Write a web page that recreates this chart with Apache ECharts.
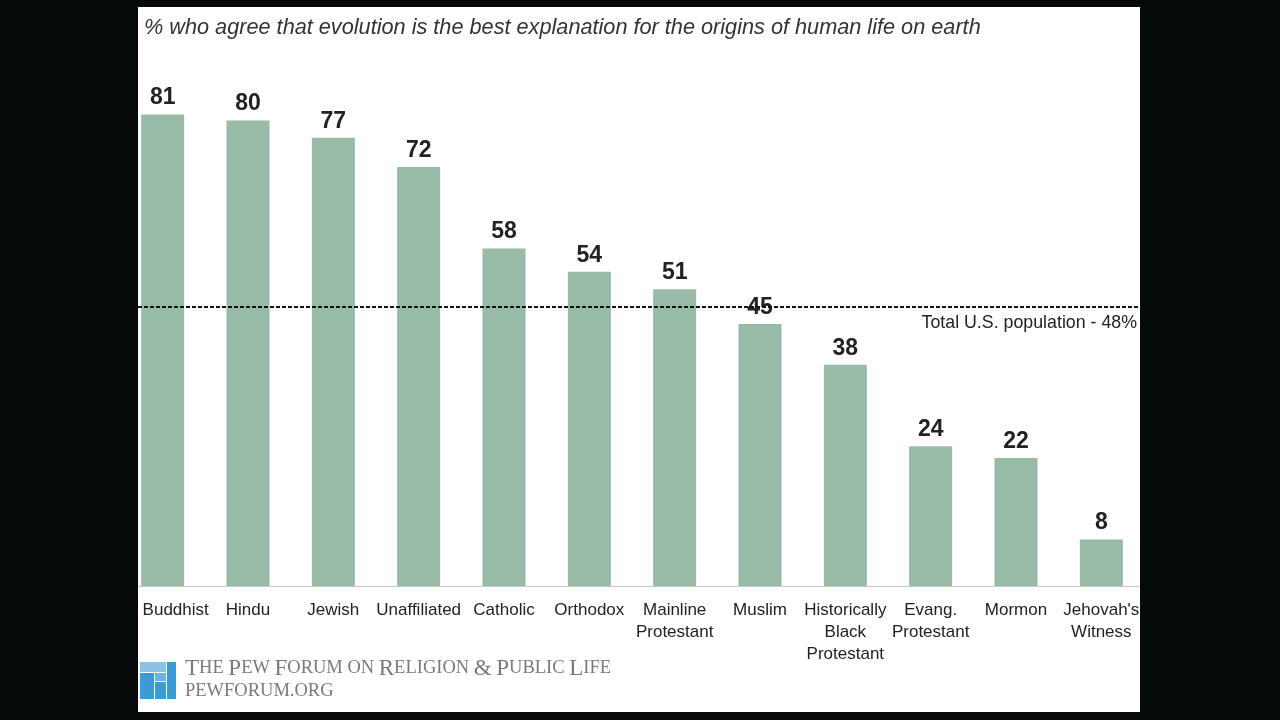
<!DOCTYPE html>
<html><head><meta charset="utf-8">
<script src="https://cdn.jsdelivr.net/npm/echarts@6/dist/echarts.min.js"></script>
<style>html,body{margin:0;padding:0;background:#05090a}#c{width:1280px;height:720px}</style>
</head><body><div id="c"></div>
<script>
const categories = ["Buddhist","Hindu","Jewish","Unaffiliated","Catholic","Orthodox","Mainline\nProtestant","Muslim","Historically\nBlack\nProtestant","Evang.\nProtestant","Mormon","Jehovah's\nWitness"];
const values = [81,80,77,72,58,54,51,45,38,24,22,8];
const totalPopulation = 48;
const titleText = "% who agree that evolution is the best explanation for the origins of human life on earth";
const referenceLabel = "Total U.S. population - 48%";
const footerName = "The Pew Forum on Religion & Public Life";
const footerUrl = "PEWFORUM.ORG";

const SANS = "'Liberation Sans', Arial, sans-serif";
const SERIF = "'Liberation Serif', 'DejaVu Serif', serif";
const chart = echarts.init(document.getElementById('c'));
function smallCaps(str){
  let out = '';
  str.split(' ').forEach((w,i)=>{
    if(i>0) out += '{s| }';
    if(w === '&'){ out += '{b|&}'; return; }
    if(w[0] === w[0].toLowerCase()){ out += '{s|' + w.toUpperCase() + '}'; return; }
    out += '{b|' + w[0] + '}';
    if(w.length>1) out += '{s|' + w.slice(1).toUpperCase() + '}';
  });
  return out;
}
const option = {
  backgroundColor: '#05090a',
  animation: false,
  title: {
    text: titleText,
    left: 139, top: 12,
    textStyle: {fontFamily: SANS, fontStyle: 'italic', fontWeight: 'normal', fontSize: 21.7, color: '#333'}
  },
  grid: {left: 120, width: 1024, top: 4, bottom: 134, containLabel: false},
  xAxis: {
    type: 'category',
    data: categories.map((c,i)=> i===0 ? {value:c, textStyle:{padding:[0,0,0,26]}} : c),
    axisLine: {show: true, lineStyle: {color: '#c8c8c8', width: 1}},
    axisTick: {show: false},
    axisLabel: {interval: 0, margin: 13, fontFamily: SANS, fontSize: 17, color: '#222', lineHeight: 22}
  },
  yAxis: {type: 'value', min: 0, max: 100, show: false, splitLine: {show:false}},
  series: [{
    type: 'bar',
    data: values,
    barWidth: 43,
    itemStyle: {color: '#98bba8'},
    label: {show: true, position: 'top', distance: 5, fontFamily: SANS, fontWeight: 'bold', fontSize: 23, color: '#222'},
    markLine: {
      symbol: 'none', silent: true,
      lineStyle: {type: [4,2], color: '#111', width: 2},
      label: {show: true, position: 'insideEndBottom', distance: [7, 7], formatter: referenceLabel,
        fontFamily: SANS, fontSize: 17.8, color: '#222'},
      data: [{yAxis: totalPopulation}]
    }
  }],
  graphic: [
    {type:'rect', z:-10, shape:{x:138,y:7,width:1002,height:705}, style:{fill:'#fff'}},
    {type:'rect', z:100, shape:{x:0,y:0,width:138,height:720}, style:{fill:'#05090a'}},
    {type:'rect', z:100, shape:{x:1140,y:0,width:140,height:720}, style:{fill:'#05090a'}},
    {type:'rect', z:50, shape:{x:140,y:662,width:26,height:10}, style:{fill:'#8cc2e4'}},
    {type:'rect', z:50, shape:{x:167,y:662,width:9,height:37}, style:{fill:'#3a9bd5'}},
    {type:'rect', z:50, shape:{x:140,y:673,width:14,height:26}, style:{fill:'#3a9bd5'}},
    {type:'rect', z:50, shape:{x:155,y:673,width:11,height:8}, style:{fill:'#6fb3df'}},
    {type:'rect', z:50, shape:{x:155,y:682,width:11,height:17}, style:{fill:'#3a9bd5'}},
    {type:'text', z:50, left:185, top:657, style:{
      text: smallCaps(footerName),
      rich:{b:{fontFamily:SERIF, fontSize:23, fill:'#7a7a7a'}, s:{fontFamily:SERIF, fontSize:18.5, fill:'#7a7a7a'}}
    }},
    {type:'text', z:50, left:185, top:682, style:{
      text: footerUrl, fontFamily:SERIF, fontSize:18.5, fill:'#7a7a7a'
    }}
  ]
};
chart.setOption(option);
</script></body></html>
